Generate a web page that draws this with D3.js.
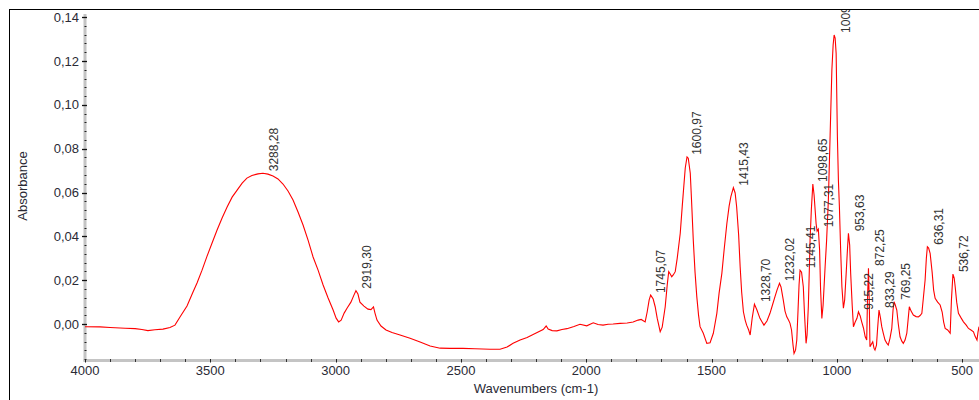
<!DOCTYPE html>
<html>
<head>
<meta charset="utf-8">
<script src="https://cdn.jsdelivr.net/npm/d3@7"></script>
<style>
  html, body { margin: 0; padding: 0; background: #fff; }
  svg { display: block; }
  text { font-family: "Liberation Sans", Arial, sans-serif; }
</style>
</head>
<body>
<svg id="chart" width="979" height="400"></svg>
<script>
// ---- Data ----
const wavenumbers = [
  4000,3940,3900,3840,3800,3773,3749,3721,3689,3661,3641,3621,3593,3569,3553,3533,3513,3493,3473,3453,
  3433,3413,3393,3373,3354,3334,3310,3290,3270,3250,3230,3210,3190,3170,3150,3130,3110,3090,3070,3050,
  3030,3010,2998,2988,2978,2966,2954,2939,2927,2919,2911,2903,2887,2871,2859,2849,2843,2835,2819,2799,
  2775,2743,2703,2663,2623,2583,2544,2492,2444,2384,2344,2316,2292,2264,2236,2204,2172,2160,2152,2136,
  2117,2097,2077,2049,2025,1998,1972,1953,1933,1913,1893,1865,1837,1813,1793,1781,1765,1757,1749,1743,
  1733,1725,1717,1705,1697,1685,1677,1671,1665,1659,1653,1645,1637,1625,1617,1612,1605,1598,1593,1585,
  1580,1573,1566,1559,1552,1546,1533,1519,1506,1493,1479,1470,1459,1450,1439,1430,1423,1413,1406,1400,
  1392,1386,1380,1373,1366,1360,1352,1346,1338,1329,1319,1307,1291,1279,1267,1257,1247,1239,1229,1223,
  1214,1207,1200,1193,1187,1181,1175,1171,1165,1160,1155,1151,1147,1141,1134,1129,1123,1119,1114,1110,
  1107,1102,1096,1091,1083,1079,1074,1069,1065,1060,1055,1047,1041,1034,1027,1020,1015,1011,1007,1003,
  998,994,990,985,980,974,969,963,958,954,949,945,939,934,927,920,914,907,901,894,
  887,881,878,874,871,868,862,857,852,848,842,838,832,826,821,815,808,801,795,788,
  781,776,772,767,761,755,748,741,735,728,721,716,711,704,695,684,675,668,661,655,
  648,643,639,634,628,620,614,608,598,588,580,574,568,558,548,543,537,532,528,522,
  515,504,495,484,475,465,455,449,441,437,433
];
const absorbance = [
  -0.0012,-0.0013,-0.0016,-0.0019,-0.0021,-0.0025,-0.0030,-0.0026,-0.0023,-0.0016,-0.0005,0.0032,0.0082,0.0146,0.0187,0.0246,0.0310,0.0370,0.0429,0.0484,
  0.0534,0.0579,0.0611,0.0643,0.0666,0.0678,0.0685,0.0688,0.0684,0.0675,0.0662,0.0639,0.0607,0.0566,0.0511,0.0452,0.0383,0.0306,0.0246,0.0178,
  0.0119,0.0064,0.0027,0.0010,0.0018,0.0050,0.0073,0.0100,0.0132,0.0152,0.0137,0.0100,0.0082,0.0068,0.0066,0.0078,0.0050,0.0018,-0.0009,-0.0027,
  -0.0039,-0.0050,-0.0065,-0.0082,-0.0100,-0.0110,-0.0111,-0.0111,-0.0113,-0.0115,-0.0115,-0.0105,-0.0088,-0.0073,-0.0061,-0.0043,-0.0025,-0.0009,-0.0023,-0.0030,
  -0.0031,-0.0025,-0.0021,-0.0011,-0.0001,-0.0008,0.0006,-0.0002,-0.0005,-0.0001,0.0000,0.0003,0.0005,0.0009,0.0018,0.0021,0.0010,0.0055,0.0110,0.0132,
  0.0114,0.0079,0.0027,-0.0035,-0.0014,0.0079,0.0178,0.0239,0.0228,0.0216,0.0224,0.0239,0.0301,0.0414,0.0538,0.0611,0.0712,0.0763,0.0757,0.0688,
  0.0566,0.0383,0.0237,0.0125,0.0041,-0.0012,-0.0042,-0.0088,-0.0085,-0.0042,0.0049,0.0141,0.0231,0.0338,0.0459,0.0538,0.0581,0.0622,0.0598,0.0535,
  0.0406,0.0261,0.0146,0.0056,0.0018,-0.0005,-0.0027,-0.0050,0.0027,0.0091,0.0064,0.0026,-0.0005,0.0014,0.0049,0.0087,0.0125,0.0155,0.0186,0.0169,
  0.0110,0.0059,0.0033,0.0018,0.0003,-0.0027,-0.0096,-0.0134,-0.0119,-0.0073,0.0064,0.0178,0.0246,0.0237,0.0170,0.0041,-0.0088,-0.0050,0.0079,0.0246,
  0.0383,0.0520,0.0639,0.0589,0.0459,0.0424,0.0433,0.0338,0.0155,0.0026,0.0087,0.0261,0.0383,0.0566,0.0862,0.1159,0.1273,0.1319,0.1305,0.1235,
  0.0855,0.0657,0.0535,0.0338,0.0170,0.0072,0.0110,0.0231,0.0338,0.0414,0.0360,0.0231,0.0087,-0.0012,0.0009,0.0026,0.0056,0.0037,0.0010,-0.0018,
  -0.0058,-0.0073,0.0110,0.0254,0.0110,-0.0104,-0.0091,-0.0081,-0.0110,-0.0119,-0.0096,-0.0027,0.0064,0.0027,-0.0012,-0.0041,-0.0073,-0.0087,-0.0096,-0.0064,
  -0.0020,0.0064,0.0102,0.0087,0.0064,0.0000,-0.0058,-0.0078,-0.0088,-0.0073,-0.0042,0.0018,0.0079,0.0059,0.0041,0.0034,0.0033,0.0039,0.0049,0.0119,
  0.0201,0.0301,0.0353,0.0347,0.0323,0.0237,0.0155,0.0117,0.0100,0.0087,0.0055,0.0009,-0.0020,-0.0027,-0.0042,0.0110,0.0228,0.0210,0.0170,0.0100,
  0.0049,0.0027,0.0010,-0.0005,-0.0020,-0.0027,-0.0035,-0.0055,-0.0073,-0.0037,-0.0012
];

const peakWavenumbers = [3288.28, 2919.30, 1745.07, 1600.97, 1415.43, 1328.70, 1232.02, 1145.41, 1098.65, 1077.31, 1009.36, 953.63, 915.22, 872.25, 833.29, 769.25, 636.31, 536.72];
const peakAbsorbance  = [0.0688, 0.0152, 0.0132, 0.0763, 0.0622, 0.0091, 0.0186, 0.0246, 0.0639, 0.0433, 0.1319, 0.0414, 0.0056, 0.0256, 0.0064, 0.0102, 0.0353, 0.0228];

const xMajorTicks = [4000, 3500, 3000, 2500, 2000, 1500, 1000, 500];
const yMajorTicks = [0.00, 0.02, 0.04, 0.06, 0.08, 0.10, 0.12, 0.14];

const xTitle = "Wavenumbers (cm-1)";
const yTitle = "Absorbance";

// ---- Layout ----
const svg = d3.select("#chart");
const plot = { left: 85, right: 979, top: 15, bottom: 360 };

const x = d3.scaleLinear().domain([4000, 433]).range([plot.left, plot.right]);
const y = d3.scaleLinear().domain([-0.0164, 0.141]).range([plot.bottom, plot.top]);

const commaFmt = v => d3.format(".2f")(v).replace(".", ",");
const labelFmt = v => d3.format(".2f")(v).replace(".", ",");

svg.append("defs").append("clipPath").attr("id", "frameClip")
  .append("rect").attr("x", 10).attr("y", 10).attr("width", 969).attr("height", 390);

// outer frame
svg.append("rect").attr("x", 9.5).attr("y", 9.5).attr("width", 1200).attr("height", 800)
  .attr("fill", "none").attr("stroke", "#000").attr("stroke-width", 1);

// axes lines (grey, thick)
svg.append("line")
  .attr("x1", plot.left).attr("x2", plot.left)
  .attr("y1", plot.top - 1).attr("y2", plot.bottom + 1.5)
  .attr("stroke", "#c4c4c4").attr("stroke-width", 3);
svg.append("line")
  .attr("x1", plot.left - 1.5).attr("x2", plot.right)
  .attr("y1", plot.bottom + 0.5).attr("y2", plot.bottom + 0.5)
  .attr("stroke", "#c4c4c4").attr("stroke-width", 3);

// y minor ticks
const yMinor = d3.range(-16, 141, 4).map(d => d / 1000);
svg.append("g").selectAll("line").data(yMinor).join("line")
  .attr("x1", plot.left - 0.5).attr("x2", plot.left + 1.5)
  .attr("y1", d => Math.round(y(d)) + 0.5).attr("y2", d => Math.round(y(d)) + 0.5)
  .attr("stroke", "#222").attr("stroke-width", 1);
// y major ticks
svg.append("g").selectAll("line").data(yMajorTicks).join("line")
  .attr("x1", plot.left - 3).attr("x2", plot.left + 2)
  .attr("y1", d => Math.round(y(d)) + 0.5).attr("y2", d => Math.round(y(d)) + 0.5)
  .attr("stroke", "#111").attr("stroke-width", 1.3);
svg.append("g").selectAll("text").data(yMajorTicks).join("text")
  .attr("x", 79).attr("y", d => y(d))
  .attr("dy", "0.35em")
  .attr("text-anchor", "end")
  .attr("font-size", 13).attr("fill", "#2a2a35")
  .text(commaFmt);

// x ticks
const xMinor = d3.range(4000, 432, -100);
svg.append("g").selectAll("line").data(xMinor).join("line")
  .attr("x1", d => Math.round(x(d)) + 0.5).attr("x2", d => Math.round(x(d)) + 0.5)
  .attr("y1", plot.bottom - 1).attr("y2", plot.bottom + 2)
  .attr("stroke", "#333").attr("stroke-width", 1);
svg.append("g").selectAll("line").data(xMajorTicks).join("line")
  .attr("x1", d => Math.round(x(d)) + 0.5).attr("x2", d => Math.round(x(d)) + 0.5)
  .attr("y1", plot.bottom - 1).attr("y2", plot.bottom + 2.5)
  .attr("stroke", "#222").attr("stroke-width", 1);
svg.append("g").selectAll("text").data(xMajorTicks).join("text")
  .attr("x", d => x(d)).attr("y", 375)
  .attr("text-anchor", "middle")
  .attr("font-size", 13).attr("fill", "#2a2a35")
  .text(d => d);

// titles
svg.append("text").attr("x", 536).attr("y", 393)
  .attr("text-anchor", "middle").attr("font-size", 13).attr("fill", "#2a2a35")
  .text(xTitle);
svg.append("text")
  .attr("transform", `translate(27,186) rotate(-90)`)
  .attr("text-anchor", "middle").attr("font-size", 13).attr("fill", "#2a2a35")
  .text(yTitle);

// spectrum
const pts = wavenumbers.map((w, i) => [w, absorbance[i]]);
const line = d3.line().x(d => x(d[0])).y(d => y(d[1]));
svg.append("path")
  .attr("d", line(pts))
  .attr("fill", "none").attr("stroke", "#ff0000").attr("stroke-width", 1.1)
  .attr("stroke-linejoin", "miter");

// peak labels
const gl = svg.append("g").attr("clip-path", "url(#frameClip)");
gl.selectAll("text").data(peakWavenumbers).join("text")
  .attr("transform", (w, i) => `translate(${x(w) + 15},${y(peakAbsorbance[i]) - 2}) rotate(-90)`)
  .attr("text-anchor", "start")
  .attr("font-size", 12).attr("fill", "#333")
  .text(labelFmt);
</script>
</body>
</html>
